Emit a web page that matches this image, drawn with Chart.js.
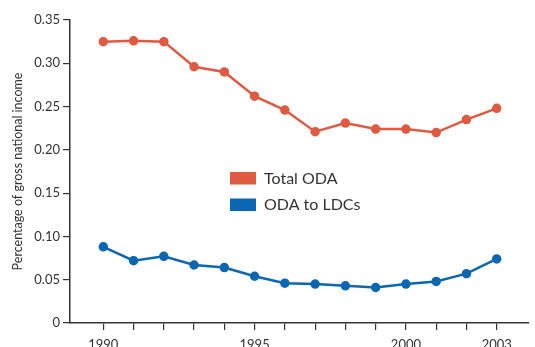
<!DOCTYPE html>
<html>
<head>
<meta charset="utf-8">
<script src="https://cdn.jsdelivr.net/npm/chart.js@4.4.0/dist/chart.umd.min.js"></script>
<style>
  html, body { margin: 0; padding: 0; background: #fff; }
  #wrap { width: 535px; height: 347px; }
</style>
</head>
<body>
<div id="wrap"><canvas id="chart"></canvas></div>
<script>
// data
const years = [1990, 1991, 1992, 1993, 1994, 1995, 1996, 1997, 1998, 1999, 2000, 2001, 2002, 2003];
const totalOda = [0.325, 0.326, 0.325, 0.296, 0.290, 0.262, 0.246, 0.221, 0.231, 0.224, 0.224, 0.220, 0.235, 0.248];
const odaLdcs = [0.088, 0.072, 0.077, 0.067, 0.064, 0.054, 0.046, 0.045, 0.043, 0.041, 0.045, 0.048, 0.057, 0.074];
const labeledYears = [1990, 1995, 2000, 2003];
const yTicks = [0, 0.05, 0.10, 0.15, 0.20, 0.25, 0.30, 0.35];

const RED = '#df5a40';
const BLUE = '#0b67b1';
const INK = '#333333';
const FONT = 'Lato, "Open Sans", sans-serif';

// legend drawn inside the plot
const innerLegend = {
  id: 'innerLegend',
  afterDraw(chart) {
    const ctx = chart.ctx;
    ctx.save();
    ctx.font = '16px ' + FONT;
    ctx.textBaseline = 'middle';
    chart.data.datasets.forEach((ds, i) => {
      const y = 172 + i * 26.5;
      ctx.fillStyle = ds.borderColor;
      ctx.fillRect(230, y, 26, 12.5);
      ctx.fillStyle = INK;
      ctx.fillText(ds.label, 264, y + 6.5);
    });
    ctx.restore();
  }
};

const ctx = document.getElementById('chart').getContext('2d');
new Chart(ctx, {
  type: 'line',
  data: {
    datasets: [
      {
        label: 'Total ODA',
        data: years.map((y, i) => ({ x: y, y: totalOda[i] })),
        borderColor: RED,
        backgroundColor: RED,
        borderWidth: 2.5,
        pointRadius: 3.5,
        tension: 0
      },
      {
        label: 'ODA to LDCs',
        data: years.map((y, i) => ({ x: y, y: odaLdcs[i] })),
        borderColor: BLUE,
        backgroundColor: BLUE,
        borderWidth: 2.5,
        pointRadius: 3.5,
        tension: 0
      }
    ]
  },
  options: {
    responsive: true,
    maintainAspectRatio: false,
    animation: false,
    layout: { padding: { top: 20, right: 0, left: 0, bottom: 0 } },
    plugins: {
      legend: { display: false },
      tooltip: { enabled: false }
    },
    scales: {
      x: {
        type: 'linear',
        min: 1988.9,
        max: 2004.05,
        afterBuildTicks(scale) {
          scale.ticks = years.map(v => ({ value: v }));
        },
        afterFit(scale) { scale.height = 24; },
        grid: {
          display: true,
          drawOnChartArea: false,
          drawTicks: true,
          tickLength: 7,
          color: INK,
          lineWidth: 1.2
        },
        border: { display: true, color: INK, width: 1.5 },
        ticks: {
          autoSkip: false,
          maxRotation: 0,
          padding: 7,
          color: INK,
          font: { family: FONT, size: 13 },
          callback: v => labeledYears.includes(v) ? String(v) : ''
        }
      },
      y: {
        min: 0,
        max: 0.35,
        afterBuildTicks(scale) {
          scale.ticks = yTicks.map(v => ({ value: v }));
        },
        afterFit(scale) { scale.width = 70; },
        grid: {
          display: true,
          drawOnChartArea: false,
          drawTicks: true,
          tickLength: 7,
          color: INK,
          lineWidth: 1.2
        },
        border: { display: true, color: INK, width: 1.5 },
        ticks: {
          padding: 3,
          color: INK,
          font: { family: FONT, size: 13 },
          callback: v => v === 0 ? '0' : v.toFixed(2)
        },
        title: {
          display: true,
          text: 'Percentage of gross national income',
          color: INK,
          font: { family: FONT, size: 12.5 },
          padding: { top: 10, bottom: 0 }
        }
      }
    }
  },
  plugins: [innerLegend]
});
</script>
</body>
</html>
